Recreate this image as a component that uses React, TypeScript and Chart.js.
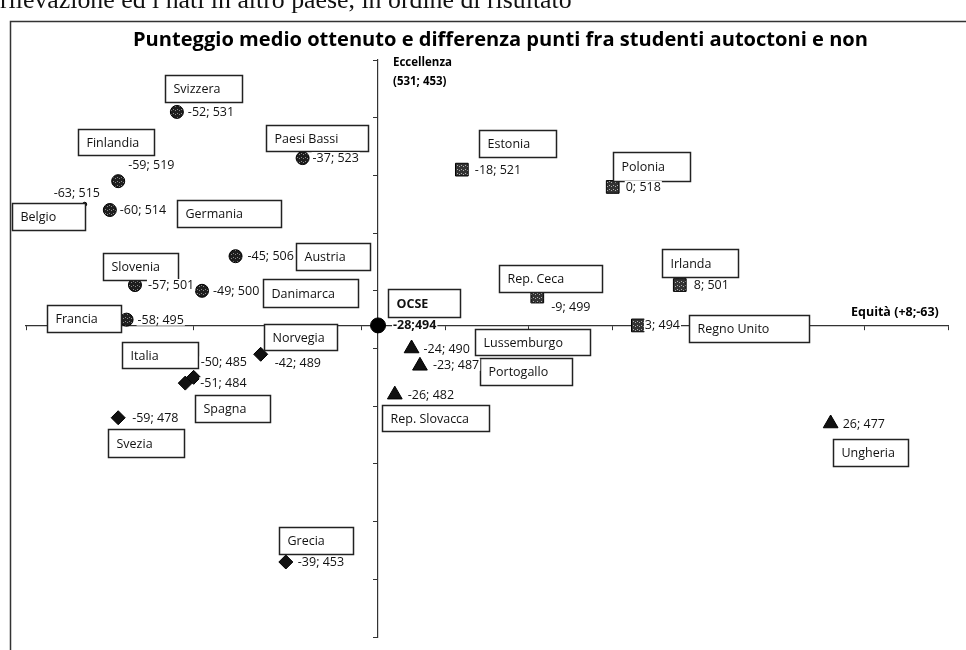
import React, { useEffect, useRef } from 'react';
import { Chart, registerables } from 'chart.js';

Chart.register(...registerables);

// ---------- DATA ----------
const countries = [
  'Svizzera', 'Paesi Bassi', 'Finlandia', 'Belgio', 'Germania', 'Austria', 'Slovenia', 'Danimarca', 'Francia',
  'Estonia', 'Polonia', 'Irlanda', 'Rep. Ceca', 'Regno Unito',
  'Lussemburgo', 'Portogallo', 'Rep. Slovacca', 'Ungheria',
  'Norvegia', 'Italia', 'Spagna', 'Svezia', 'Grecia',
];
// differenza punti fra studenti autoctoni e non (equità)
const pointDifference = [-52, -37, -59, -63, -60, -45, -57, -49, -58, -18, 0, 8, -9, 3, -24, -23, -26, 26, -42, -50, -51, -59, -39];
// punteggio medio ottenuto (eccellenza)
const averageScore = [531, 523, 519, 515, 514, 506, 501, 500, 495, 521, 518, 501, 499, 494, 490, 487, 482, 477, 489, 485, 484, 478, 453];

const oecdLabel = 'OCSE';
const oecdDifference = -28;
const oecdScore = 494;

const xAxisRange = [-70, 40];
const yAxisRange = [440, 540];
const axisStep = 10;

const titleText = 'Punteggio medio ottenuto e differenza punti fra studenti autoctoni e non';
const headerText = 'rilevazione ed i nati in altro paese, in ordine di risultato';
const yAxisLabel = ['Eccellenza', '(531; 453)'];
const xAxisLabel = 'Equità (+8;-63)';

// ---------- LAYOUT (pixel offsets of label boxes / value labels relative to markers) ----------
// [boxDx, boxDy, boxW, boxH, valueDx, valueDy]
const labelLayout: Record<string, number[]> = {
  'Svizzera': [-12, -37, 77, 27, 11, 0],
  'Paesi Bassi': [-37, -33, 102, 26, 10, 0],
  'Finlandia': [-40, -52, 76, 26, 10, -16],
  'Belgio': [-73, -1, 73, 27, -31, -11],
  'Germania': [67, -10, 104, 27, 10, 0],
  'Austria': [60, -13, 74, 27, 12, 0],
  'Slovenia': [-32, -32, 75, 27, 13, 0],
  'Danimarca': [61, -12, 95, 28, 11, 0],
  'Francia': [-80, -15, 74, 27, 11, 0],
  'Estonia': [17, -40, 77, 27, 13, 0],
  'Polonia': [0, -35, 77, 29, 13, 0],
  'Irlanda': [-18, -36, 76, 28, 14, 0],
  'Rep. Ceca': [-38, -32, 103, 27, 14, 10],
  'Regno Unito': [51, -10, 120, 27, 7, 0],
  'Lussemburgo': [63, -20, 115, 26, 12, 0],
  'Portogallo': [60, -8, 92, 27, 13, -1],
  'Rep. Slovacca': [-13, 10, 107, 26, 13, 0],
  'Ungheria': [2, 15, 75, 27, 12, 0],
  'Norvegia': [3, -30, 73, 26, 14, 9],
  'Italia': [-72, -35, 76, 26, 7, -15],
  'Spagna': [10, 12, 75, 27, 15, 0],
  'Svezia': [-10, 11, 76, 28, 14, 0],
  'Grecia': [-7, -35, 74, 27, 12, 0],
  'OCSE': [10, -36, 72, 28, 15, 0],
};

const FONT = '"Open Sans", "DejaVu Sans", sans-serif';

function makePattern(base: string, speck: string) {
  const c = document.createElement('canvas');
  c.width = 4;
  c.height = 4;
  const g = c.getContext('2d')!;
  g.fillStyle = base;
  g.fillRect(0, 0, 4, 4);
  g.fillStyle = speck;
  g.fillRect(1, 1, 1, 1);
  g.fillRect(3, 2, 1, 1);
  return g.createPattern(c, 'repeat') as CanvasPattern;
}

const annotationPlugin = {
  id: 'annotations',
  beforeDraw(chart: any) {
    const ctx = chart.ctx as CanvasRenderingContext2D;
    ctx.save();
    ctx.fillStyle = '#fff';
    ctx.fillRect(0, 0, chart.width, chart.height);
    // header (cut-off serif line)
    ctx.fillStyle = '#111';
    let fs = 20;
    ctx.font = `${fs}px "Liberation Serif", serif`;
    const hw = ctx.measureText(headerText).width;
    fs = (fs * 572) / hw;
    ctx.font = `${fs}px "Liberation Serif", serif`;
    ctx.textBaseline = 'alphabetic';
    ctx.textAlign = 'left';
    ctx.fillText(headerText, 0, 8);
    // outer frame
    ctx.strokeStyle = '#333';
    ctx.lineWidth = 1.5;
    ctx.strokeRect(10.5, 21.5, 1000, 700);
    // title (condensed horizontally to the reference width)
    ctx.font = `bold 20px ${FONT}`;
    const tw = ctx.measureText(titleText).width;
    ctx.textBaseline = 'middle';
    ctx.fillStyle = '#000';
    ctx.save();
    ctx.translate(133, 40);
    ctx.scale(735 / tw, 1);
    ctx.fillText(titleText, 0, 0);
    ctx.restore();
    ctx.restore();
  },
  afterDatasetsDraw(chart: any) {
    const ctx = chart.ctx as CanvasRenderingContext2D;
    ctx.save();
    ctx.textBaseline = 'middle';
    ctx.textAlign = 'left';
    // axis labels
    ctx.fillStyle = '#000';
    ctx.font = `bold 11.5px ${FONT}`;
    ctx.fillText(yAxisLabel[0], 393, 63);
    ctx.fillText(yAxisLabel[1], 393, 82);
    ctx.font = `bold 12.5px ${FONT}`;
    ctx.fillText(xAxisLabel, 851, 312);

    chart.data.datasets.forEach((ds: any, di: number) => {
      const meta = chart.getDatasetMeta(di);
      ds.data.forEach((pt: any, pi: number) => {
        const el = meta.data[pi];
        const lay = labelLayout[pt.name];
        if (!el || !lay) return;
        const [bdx, bdy, bw, bh, vdx, vdy] = lay;
        const isOecd = pt.name === oecdLabel;
        const bx = Math.round(el.x + bdx) + 0.5;
        const by = Math.round(el.y + bdy) + 0.5;
        ctx.fillStyle = '#fff';
        ctx.fillRect(bx, by, bw, bh);
        ctx.strokeStyle = '#222';
        ctx.lineWidth = 1.5;
        ctx.strokeRect(bx, by, bw, bh);
        ctx.fillStyle = '#111';
        ctx.font = `${isOecd ? 'bold ' : ''}12.5px ${FONT}`;
        ctx.fillText(pt.name, bx + 8, by + bh / 2 + 0.5);
        // value label
        const vt = isOecd ? `${pt.x};${pt.y}` : `${pt.x}; ${pt.y}`;
        ctx.font = `${isOecd ? 'bold ' : ''}12.5px ${FONT}`;
        const tw = ctx.measureText(vt).width;
        const vx = el.x + vdx;
        const vy = el.y + vdy;
        ctx.fillStyle = '#fff';
        ctx.fillRect(vx - 1, vy - 6, tw + 2, 12);
        ctx.fillStyle = '#111';
        ctx.fillText(vt, vx, vy + 0.5);
      });
    });
    ctx.restore();
  },
};

export default function App() {
  const ref = useRef<HTMLCanvasElement>(null);

  useEffect(() => {
    const canvas = ref.current!;
    const dark = makePattern('#1e1e1e', '#8a8a8a');
    const hatch = makePattern('#333333', '#b0b0b0');

    const groups: Record<string, any[]> = { circle: [], rect: [], triangle: [], rectRot: [] };
    countries.forEach((name, i) => {
      const x = pointDifference[i];
      const y = averageScore[i];
      const left = x < oecdDifference;
      const top = y >= oecdScore;
      const key = left && top ? 'circle' : !left && top ? 'rect' : !left ? 'triangle' : 'rectRot';
      groups[key].push({ x, y, name });
    });

    const radiusFor = (style: string, name: string) => {
      if (name === 'Belgio') return 2;
      if (style === 'rect') return 9;
      if (style === 'triangle') return 8.5;
      if (style === 'rectRot') return 7;
      return 6.5;
    };

    const datasets: any[] = Object.keys(groups).map((style) => ({
      label: style,
      data: groups[style],
      pointStyle: style,
      pointRadius: (c: any) => radiusFor(style, c.raw?.name),
      backgroundColor: style === 'rect' ? hatch : style === 'circle' ? dark : '#111',
      borderColor: '#000',
      borderWidth: 1,
    }));
    datasets.push({
      label: oecdLabel,
      data: [{ x: oecdDifference, y: oecdScore, name: oecdLabel }],
      pointStyle: 'circle',
      pointRadius: 7.5,
      backgroundColor: '#000',
      borderColor: '#000',
      borderWidth: 1,
    });

    const chart = new Chart(canvas, {
      type: 'scatter',
      data: { datasets },
      options: {
        responsive: false,
        animation: false,
        devicePixelRatio: 1,
        layout: { padding: { left: 26, right: 18, top: 60, bottom: 13 } },
        plugins: { legend: { display: false }, tooltip: { enabled: false }, title: { display: false } },
        scales: {
          x: {
            type: 'linear',
            min: xAxisRange[0],
            max: xAxisRange[1],
            position: { y: oecdScore } as any,
            ticks: { display: false, stepSize: axisStep },
            grid: { drawOnChartArea: false, drawTicks: true, tickLength: 4, color: '#333' },
            border: { color: '#333', width: 1.2 },
          },
          y: {
            type: 'linear',
            min: yAxisRange[0],
            max: yAxisRange[1],
            position: { x: oecdDifference } as any,
            ticks: { display: false, stepSize: axisStep },
            grid: { drawOnChartArea: false, drawTicks: true, tickLength: 4, color: '#333' },
            border: { color: '#333', width: 1.2 },
          },
        },
      },
      plugins: [annotationPlugin],
    });
    return () => chart.destroy();
  }, []);

  return (
    <div style={{ position: 'fixed', left: 0, top: 0, width: 966, height: 650, background: '#fff' }}>
      <canvas ref={ref} width={966} height={650} style={{ display: 'block' }} />
    </div>
  );
}
